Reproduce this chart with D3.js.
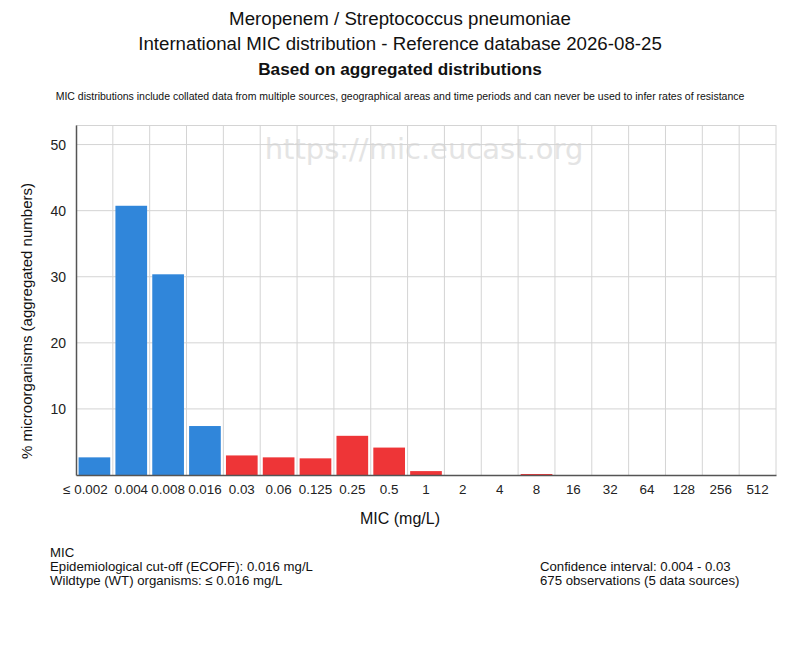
<!DOCTYPE html>
<html>
<head>
<meta charset="utf-8">
<script src="https://cdn.jsdelivr.net/npm/d3@7"></script>
<style>
  body { margin: 0; background: #fff; }
  text { font-family: "Liberation Sans", Arial, sans-serif; fill: #111; }
</style>
</head>
<body>
<svg id="chart" width="800" height="650"></svg>
<script>
// MIC classes and % of organisms
var micLabels = ['≤ 0.002', '0.004', '0.008', '0.016', '0.03', '0.06', '0.125', '0.25', '0.5',
                 '1', '2', '4', '8', '16', '32', '64', '128', '256', '512'];
var percents = [2.67, 40.74, 30.37, 7.41, 2.96, 2.67, 2.52, 5.93, 4.15,
                0.59, 0, 0, 0.15, 0, 0, 0, 0, 0, 0];
var wildtype = [true, true, true, true, false, false, false, false, false,
                false, false, false, false, false, false, false, false, false, false];
var yTicks = [10, 20, 30, 40, 50];

var titleLines = [
    'Meropenem / Streptococcus pneumoniae',
    'International MIC distribution - Reference database 2026-08-25'
];
var subTitle = 'Based on aggregated distributions';
var note = 'MIC distributions include collated data from multiple sources, geographical areas and time periods and can never be used to infer rates of resistance';
var infoLeft = ['MIC', 'Epidemiological cut-off (ECOFF): 0.016 mg/L', 'Wildtype (WT) organisms: ≤ 0.016 mg/L'];
var infoRight = ['Confidence interval: 0.004 - 0.03', '675 observations (5 data sources)'];

var svg = d3.select('#chart');
var margin = {top: 125, right: 24, bottom: 175, left: 76};
var width = 800 - margin.left - margin.right,
    height = 650 - margin.top - margin.bottom;

var x = d3.scaleBand().domain(micLabels).range([0, width]).paddingInner(0.14).paddingOuter(0.07);
var xGrid = d3.scaleBand().domain(micLabels).range([0, width]);
var y = d3.scaleLinear().domain([0, d3.max(percents) * 1.3]).range([height, 0]);

// titles
svg.selectAll('.title').data(titleLines).enter().append('text')
    .attr('x', 400).attr('y', function (d, i) { return 25 + i * 25; })
    .attr('text-anchor', 'middle')
    .style('font-size', '18.7px')
    .text(function (d) { return d; });
svg.append('text')
    .attr('x', 400).attr('y', 75).attr('text-anchor', 'middle')
    .style('font-size', '17.2px').style('font-weight', 'bold')
    .text(subTitle);
svg.append('text')
    .attr('x', 400).attr('y', 100).attr('text-anchor', 'middle')
    .style('font-size', '10.5px')
    .text(note);

var g = svg.append('g').attr('transform', 'translate(' + margin.left + ',' + margin.top + ')');

// watermark
g.append('text')
    .attr('x', width / 2 - 2).attr('y', 34)
    .attr('text-anchor', 'middle')
    .style('font-family', '"DejaVu Sans", sans-serif')
    .style('font-size', '29px').style('fill', '#e4e4e4')
    .text('https://mic.eucast.org');

// grid
g.selectAll('.hgrid').data(yTicks).enter().append('line')
    .attr('x1', 0).attr('x2', width)
    .attr('y1', function (d) { return y(d); }).attr('y2', function (d) { return y(d); })
    .attr('stroke', '#d4d4d4');
g.append('line').attr('x1', 0).attr('x2', width).attr('y1', 0.5).attr('y2', 0.5).attr('stroke', '#d4d4d4');
g.selectAll('.vgrid').data(micLabels).enter().append('line')
    .attr('x1', function (d) { return xGrid(d) + xGrid.bandwidth(); })
    .attr('x2', function (d) { return xGrid(d) + xGrid.bandwidth(); })
    .attr('y1', 0).attr('y2', height)
    .attr('stroke', '#d4d4d4');

// bars
g.selectAll('.bar').data(percents).enter().append('rect')
    .attr('x', function (d, i) { return x(micLabels[i]); })
    .attr('width', x.bandwidth())
    .attr('y', function (d) { return y(d); })
    .attr('height', function (d) { return height - y(d); })
    .attr('fill', function (d, i) { return wildtype[i] ? '#3086da' : '#ee3537'; });

// axes
var yAxis = g.append('g').call(d3.axisLeft(y).tickValues(yTicks).tickSize(0).tickPadding(10));
yAxis.select('.domain').attr('stroke', '#555').attr('stroke-width', 1.5);
yAxis.selectAll('text')
    .style('font-family', '"Liberation Sans", Arial, sans-serif')
    .style('font-size', '14px').style('fill', '#222');

var xAxis = g.append('g').attr('transform', 'translate(0,' + height + ')')
    .call(d3.axisBottom(xGrid).tickSize(0).tickPadding(9));
xAxis.select('.domain').attr('stroke', '#555').attr('stroke-width', 1.5);
xAxis.selectAll('text')
    .style('font-family', '"Liberation Sans", Arial, sans-serif')
    .style('font-size', '13.4px').style('fill', '#222')
    .attr('dx', function (d, i) { return i === 0 ? -9 : 0; });

// axis titles
svg.append('text')
    .attr('transform', 'translate(32,321) rotate(-90)')
    .attr('text-anchor', 'middle')
    .style('font-size', '15px')
    .text('% microorganisms (aggregated numbers)');
svg.append('text')
    .attr('x', 400).attr('y', 524)
    .attr('text-anchor', 'middle').style('font-size', '16px')
    .text('MIC (mg/L)');

// info blocks
svg.selectAll('.infoL').data(infoLeft).enter().append('text')
    .attr('x', 50).attr('y', function (d, i) { return 557 + i * 14; })
    .style('font-size', '13.2px')
    .text(function (d) { return d; });
svg.selectAll('.infoR').data(infoRight).enter().append('text')
    .attr('x', 540).attr('y', function (d, i) { return 571 + i * 14; })
    .style('font-size', '13.2px')
    .text(function (d) { return d; });
</script>
</body>
</html>
